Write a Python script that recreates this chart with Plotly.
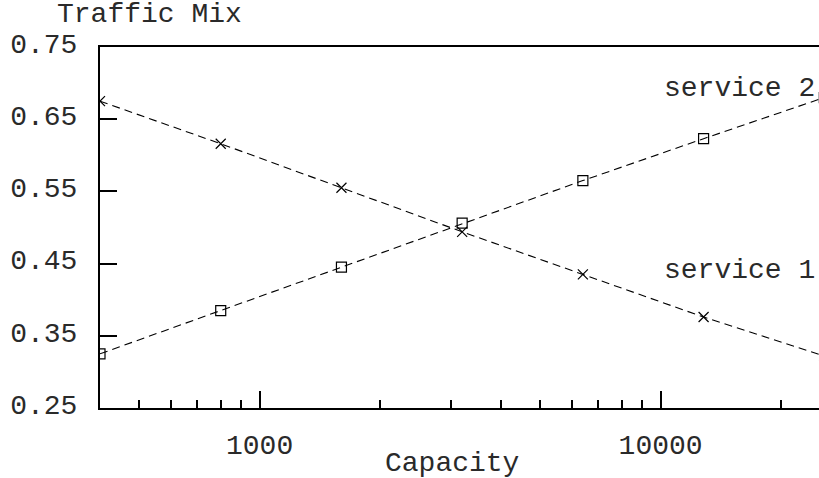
import math
import plotly.graph_objects as go

capacity = [400, 800, 1600, 3200, 6400, 12800, 25600]
service1 = [0.675, 0.616, 0.555, 0.494, 0.435, 0.376, 0.322]
service2 = [0.325, 0.385, 0.445, 0.506, 0.565, 0.623, 0.680]
y_ticks = [0.25, 0.35, 0.45, 0.55, 0.65, 0.75]
x_major = [1000, 10000]
x_minor = [500, 600, 700, 800, 900, 2000, 3000, 4000, 5000, 6000, 7000, 8000, 9000, 20000]

FONT = "Liberation Mono, Courier New, monospace"
TXT = "#2a2a2a"

fig = go.Figure()
fig.add_trace(go.Scatter(
    x=capacity, y=service1, mode="lines+markers", name="service 1",
    line=dict(color="black", width=1.1, dash="8px,5px"),
    marker=dict(symbol="x-thin", size=10, line=dict(color="black", width=1.2)),
    cliponaxis=True,
))
fig.add_trace(go.Scatter(
    x=capacity, y=service2, mode="lines+markers", name="service 2",
    line=dict(color="black", width=1.1, dash="8px,5px"),
    marker=dict(symbol="square-open", size=10, color="black", line=dict(color="black", width=1.2)),
    cliponaxis=True,
))

fig.update_layout(
    width=819, height=478,
    margin=dict(l=100, r=0, t=47, b=70),
    paper_bgcolor="white", plot_bgcolor="white",
    showlegend=False,
    font=dict(family=FONT, size=28, color=TXT),
    xaxis=dict(
        type="log", range=[math.log10(400), 4.395],
        tickvals=x_major, ticktext=[str(v) for v in x_major],
        ticks="inside", ticklen=17, tickwidth=2, tickcolor="black",
        showline=True, linewidth=2, linecolor="black", mirror=True,
        showgrid=False, zeroline=False,
        ticklabelstandoff=10,
        minor=dict(tickvals=x_minor, ticks="inside", ticklen=8, tickwidth=2,
                   tickcolor="black", showgrid=False),
        tickfont=dict(family=FONT, size=28, color=TXT),
    ),
    yaxis=dict(
        range=[0.25, 0.75],
        tickvals=y_ticks, ticktext=["%.2f" % v for v in y_ticks],
        ticks="inside", ticklen=17, tickwidth=2, tickcolor="black",
        showline=True, linewidth=2, linecolor="black", mirror=False,
        showgrid=False, zeroline=False,
        ticklabelstandoff=15, ticklabelshift=-4,
        tickfont=dict(family=FONT, size=28, color=TXT),
    ),
    annotations=[
        dict(text="Traffic Mix", xref="paper", yref="paper", x=(149 - 100) / 719, y=(478 - 70 - 15) / 361,
             xanchor="center", yanchor="middle", showarrow=False,
             font=dict(family=FONT, size=28, color=TXT)),
        dict(text="Capacity", xref="paper", yref="paper", x=(452 - 100) / 719, y=-(463 - 408) / 361,
             xanchor="center", yanchor="middle", showarrow=False,
             font=dict(family=FONT, size=28, color=TXT)),
        dict(text="service 2", xref="paper", yref="paper", x=(817 - 100) / 719, y=(408 - 88) / 361,
             xanchor="right", yanchor="middle", showarrow=False,
             font=dict(family=FONT, size=28, color=TXT)),
        dict(text="service 1", xref="paper", yref="paper", x=(817 - 100) / 719, y=(408 - 270) / 361,
             xanchor="right", yanchor="middle", showarrow=False,
             font=dict(family=FONT, size=28, color=TXT)),
    ],
)

fig.write_html("out.html",
               config={"displayModeBar": False},
               post_script="document.body.style.margin='0';document.body.style.padding='0';")
